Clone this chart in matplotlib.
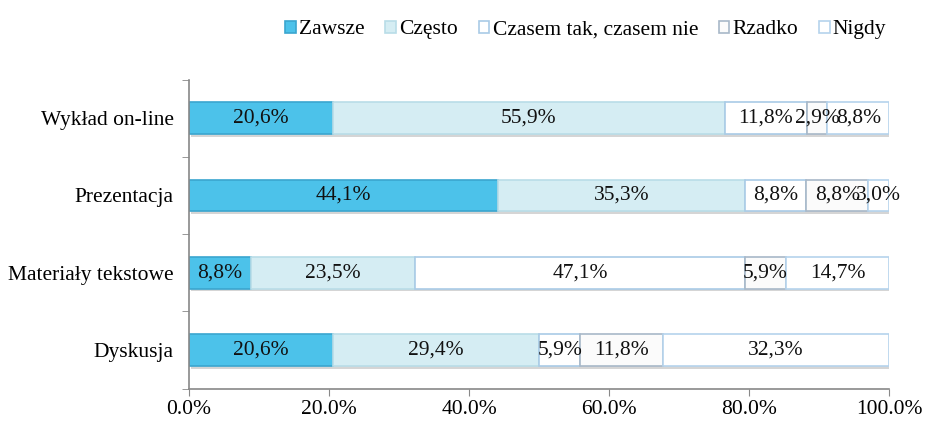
import numpy as np
import matplotlib
matplotlib.use("Agg")
import matplotlib.pyplot as plt
import matplotlib.patheffects as pe

plt.rcParams['font.family'] = ['Liberation Serif', 'DejaVu Serif']

categories = ["Wykład on-line", "Prezentacja", "Materiały tekstowe", "Dyskusja"]
series = ["Zawsze", "Często", "Czasem tak, czasem nie", "Rzadko", "Nigdy"]
zawsze = [20.6, 44.1, 8.8, 20.6]
czesto = [55.9, 35.3, 23.5, 29.4]
czasem = [11.8, 8.8, 47.1, 5.9]
rzadko = [2.9, 8.8, 5.9, 11.8]
nigdy = [8.8, 3.0, 14.7, 32.3]
xticks = [0, 20, 40, 60, 80, 100]

values = [zawsze, czesto, czasem, rzadko, nigdy]
faces = ["#4cc2ea", "#d5edf3", "#ffffff", "#fbfbfb", "#ffffff"]
edges = ["#3aa6cf", "#b9dde8", "#a9cbe6", "#a8b8c8", "#b5d3ec"]

fig = plt.figure(figsize=(9.27, 4.21), dpi=100)
ax = fig.add_axes([0.204, 0.077, 0.755, 0.734])

y = np.arange(len(categories))[::-1]
left = np.zeros(len(categories))
shadow = [pe.SimplePatchShadow(offset=(1.5, -2), alpha=0.35, shadow_rgbFace="#888888"), pe.Normal()]
for name, vals, fc, ec in zip(series, values, faces, edges):
    vals = np.array(vals)
    bars = ax.barh(y, vals, left=left, height=0.41, color=fc, edgecolor=ec,
                   linewidth=1.2, label=name)
    for b in bars:
        b.set_path_effects(shadow)
    for yi, v, l in zip(y, vals, left):
        ax.text(l + v / 2, yi, f"{v:.1f}%".replace(".", ","), ha="center",
                va="center", fontsize=15.5, color="#111111", zorder=5)
    left += vals

ax.set_xlim(0, 100)
ax.set_ylim(-0.5, len(categories) - 0.5)
ax.set_xticks(xticks)
ax.set_xticklabels([f"{t:.1f}%" for t in xticks], fontsize=15.5)
ax.set_yticks(y)
ax.set_yticklabels(categories, fontsize=15.5)
ax.set_yticks(np.arange(-0.5, len(categories), 1.0), minor=True)
ax.tick_params(axis="y", which="major", length=0, pad=11)
ax.tick_params(axis="y", which="minor", length=5, color="#888888")
ax.tick_params(axis="x", length=5, color="#888888", pad=3)
for s in ["top", "right"]:
    ax.spines[s].set_visible(False)
for s in ["left", "bottom"]:
    ax.spines[s].set_color("#888888")
    ax.spines[s].set_linewidth(1.2)

leg = fig.legend(loc="center", bbox_to_anchor=(0.632, 0.929), ncol=5, frameon=False,
                 fontsize=15.5, handlelength=0.5, handleheight=0.5, handletextpad=0.15,
                 columnspacing=0.95)
for h in leg.legend_handles:
    h.set_path_effects([])

fig.savefig("out.png", dpi=100)
